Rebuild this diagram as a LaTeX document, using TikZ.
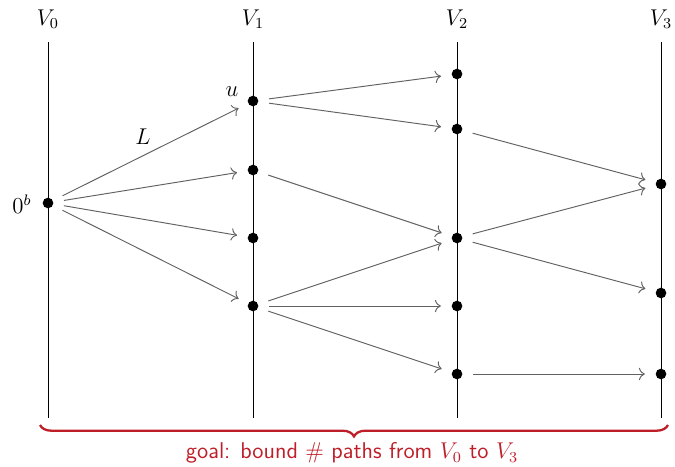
\documentclass[tikz,border=0pt]{standalone}
\usetikzlibrary{decorations.pathreplacing,arrows.meta}
\definecolor{bracered}{RGB}{190,30,40}
\begin{document}
\begin{tikzpicture}[x=0.526pt,y=-0.526pt,
  layer/.style={draw=black,line width=0.42pt},
  dot/.style={circle,fill=black,inner sep=0pt,minimum size=5.6pt},
  edge/.style={-{To[scale=1.15]},draw=black!62,line width=0.5pt,shorten <=5.5pt,shorten >=5.5pt},
  lbl/.style={inner sep=0pt,font=\large}]
\useasboundingbox (0,0) rectangle (675,466);
% layers
\foreach \x/\i in {48/0,253/1,457/2,661/3}{
  \node[lbl] (V\i) at (\x,19) {$V_\i$};
  \coordinate (t\i) at (\x,42);
  \coordinate (b\i) at (\x,418);
  \draw[layer] (t\i) -- (b\i);
}
% dots
\node[dot] (s) at (48,203) {};
\node[dot] (a1) at (253,101) {};
\node[dot] (a2) at (253,170) {};
\node[dot] (a3) at (253,238) {};
\node[dot] (a4) at (253,306) {};
\node[dot] (b1) at (457,74) {};
\node[dot] (b2) at (457,129) {};
\node[dot] (b3) at (457,238) {};
\node[dot] (b4) at (457,306) {};
\node[dot] (b5) at (457,374) {};
\node[dot] (c1) at (661,184) {};
\node[dot] (c2) at (661,293) {};
\node[dot] (c3) at (661,374) {};
% labels
\node[lbl] (lb) at (22,204) {$0^b$};
\node[lbl] (lu) at (232,92) {$u$};
\node[lbl] (lL) at (143,137) {$L$};
% edges
\draw[edge] (s) -- (a1);
\draw[edge] (s) -- (a2);
\draw[edge] (s) -- (a3);
\draw[edge] (s) -- (a4);
\draw[edge] (a1) -- (b1);
\draw[edge] (a1) -- (b2);
\draw[edge] (a2) -- (b3);
\draw[edge] (a4) -- (b3);
\draw[edge] (a4) -- (b4);
\draw[edge] (a4) -- (b5);
\draw[edge] (b2) -- (c1);
\draw[edge] (b3) -- (c1);
\draw[edge] (b3) -- (c2);
\draw[edge] (b5) -- (c3);
% brace
\coordinate (bl) at (40,425);
\coordinate (br) at (668,425);
\draw[bracered,line width=1.2pt,decorate,decoration={brace,mirror,amplitude=6pt}] (bl) -- (br);
\node[lbl,text=bracered,font=\large\sffamily] (goal) at (352,453) {goal: bound \# paths from $V_0$ to $V_3$};
\end{tikzpicture}
\end{document}
